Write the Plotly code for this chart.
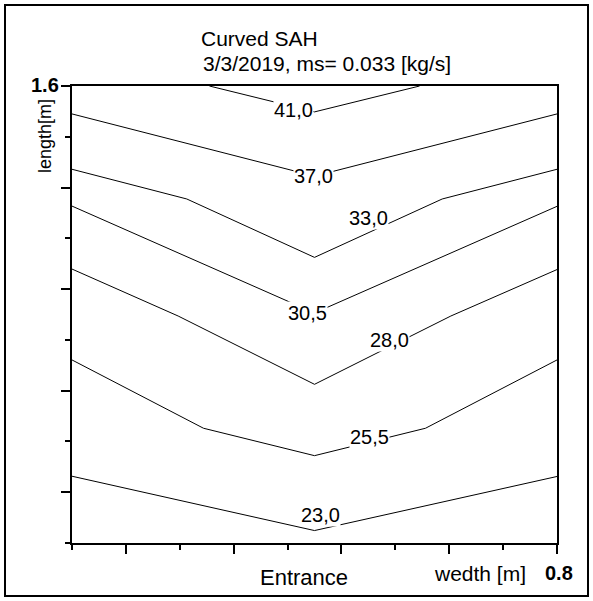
import plotly.graph_objects as go

# Temperature isolines [°C] over the collector plate (width x length, metres)
levels = [23.0, 25.5, 28.0, 30.5, 33.0, 37.0, 41.0]

iso_x = [
    [-0.1, 0.35, 0.8],
    [-0.1, 0.144, 0.35, 0.556, 0.8],
    [-0.1, 0.097, 0.35, 0.603, 0.8],
    [-0.1, 0.35, 0.8],
    [-0.1, 0.113, 0.35, 0.587, 0.8],
    [-0.1, 0.35, 0.8],
    [0.155, 0.35, 0.545],
]
iso_y = [
    [0.063, -0.151, 0.062],
    [0.521, 0.252, 0.144, 0.252, 0.521],
    [0.879, 0.694, 0.425, 0.694, 0.877],
    [1.127, 0.706, 1.126],
    [1.272, 1.155, 0.925, 1.155, 1.272],
    [1.490, 1.245, 1.490],
    [1.600, 1.498, 1.600],
]

# Where each level's value is written along its line
label_x = [0.3615, 0.4517, 0.4896, 0.3361, 0.4493, 0.3487, 0.3107]
label_y = [-0.091, 0.2175, 0.5996, 0.7059, 1.082, 1.2455, 1.5074]

x_range = [-0.1, 0.8]
y_range = [-0.2, 1.6]
x_major = [0.0, 0.2, 0.4, 0.6, 0.8]
y_major = [0.0, 0.4, 0.8, 1.2, 1.6]

FONT = "Liberation Sans, Arial, sans-serif"

fig = go.Figure()

for lv, xs, ys in zip(levels, iso_x, iso_y):
    fig.add_trace(go.Scatter(
        x=xs, y=ys, mode="lines",
        line=dict(color="black", width=1),
        name=f"{lv:.1f}", hoverinfo="skip", showlegend=False,
    ))

annotations = []
for lv, lx, ly in zip(levels, label_x, label_y):
    annotations.append(dict(
        x=lx, y=ly, xref="x", yref="y",
        text=f"{lv:.1f}".replace(".", ","),
        showarrow=False, bgcolor="white", borderpad=0,
        font=dict(family=FONT, size=20, color="black"),
        xanchor="center", yanchor="middle",
    ))

# Plot-area geometry in pixels (used to place the free texts)
L, R, T, B = 72, 557, 86, 543
W, H = R - L, B - T


def px(xp):
    return (xp - L) / W


def py(yp):
    return (B - yp) / H


annotations += [
    dict(x=px(201), y=py(63), xref="paper", yref="paper",
         text="3/3/2019, ms= 0.033 [kg/s]", showarrow=False,
         xanchor="left", yanchor="middle",
         font=dict(family=FONT, size=21, color="black")),
    dict(x=px(303.5), y=py(577), xref="paper", yref="paper",
         text="Entrance", showarrow=False,
         xanchor="center", yanchor="middle",
         font=dict(family=FONT, size=22, color="black")),
    dict(x=px(480), y=py(573), xref="paper", yref="paper",
         text="wedth [m]", showarrow=False,
         xanchor="center", yanchor="middle",
         font=dict(family=FONT, size=21, color="black")),
    dict(x=px(559), y=py(573), xref="paper", yref="paper",
         text="<b>0.8</b>", showarrow=False,
         xanchor="center", yanchor="middle",
         font=dict(family=FONT, size=20, color="black")),
    dict(x=px(61), y=py(85), xref="paper", yref="paper",
         text="<b>1.6</b>", showarrow=False,
         xanchor="right", yanchor="middle",
         font=dict(family=FONT, size=20, color="black")),
    dict(x=px(45), y=py(136), xref="paper", yref="paper",
         text="length[m]", showarrow=False, textangle=-90,
         xanchor="center", yanchor="middle",
         font=dict(family=FONT, size=18, color="black")),
]

axis_common = dict(
    showline=True, mirror=True, linecolor="black", linewidth=1.5,
    showgrid=False, zeroline=False, showticklabels=False,
    ticks="outside", ticklen=9, tickwidth=1.5, tickcolor="black",
)

fig.update_layout(
    width=593, height=601,
    margin=dict(l=L, r=593 - R, t=T, b=601 - B),
    paper_bgcolor="white", plot_bgcolor="white",
    title=dict(
        text="Curved SAH", xref="paper", x=px(201), xanchor="left",
        yref="container", y=1 - 39 / 601, yanchor="middle",
        font=dict(family=FONT, size=21, color="black"),
    ),
    xaxis=dict(
        range=x_range, tickvals=x_major,
        minor=dict(tick0=-0.1, dtick=0.2, ticks="outside", ticklen=5,
                   tickwidth=1.5, tickcolor="black"),
        **axis_common,
    ),
    yaxis=dict(
        range=y_range, tickvals=y_major,
        minor=dict(tick0=-0.2, dtick=0.4, ticks="outside", ticklen=5,
                   tickwidth=1.5, tickcolor="black"),
        **axis_common,
    ),
    annotations=annotations,
    shapes=[dict(
        type="rect", xref="paper", yref="paper",
        x0=px(5), x1=px(588), y0=py(596), y1=py(5),
        line=dict(color="black", width=2), layer="above",
    )],
)

fig.write_html("out.html")
